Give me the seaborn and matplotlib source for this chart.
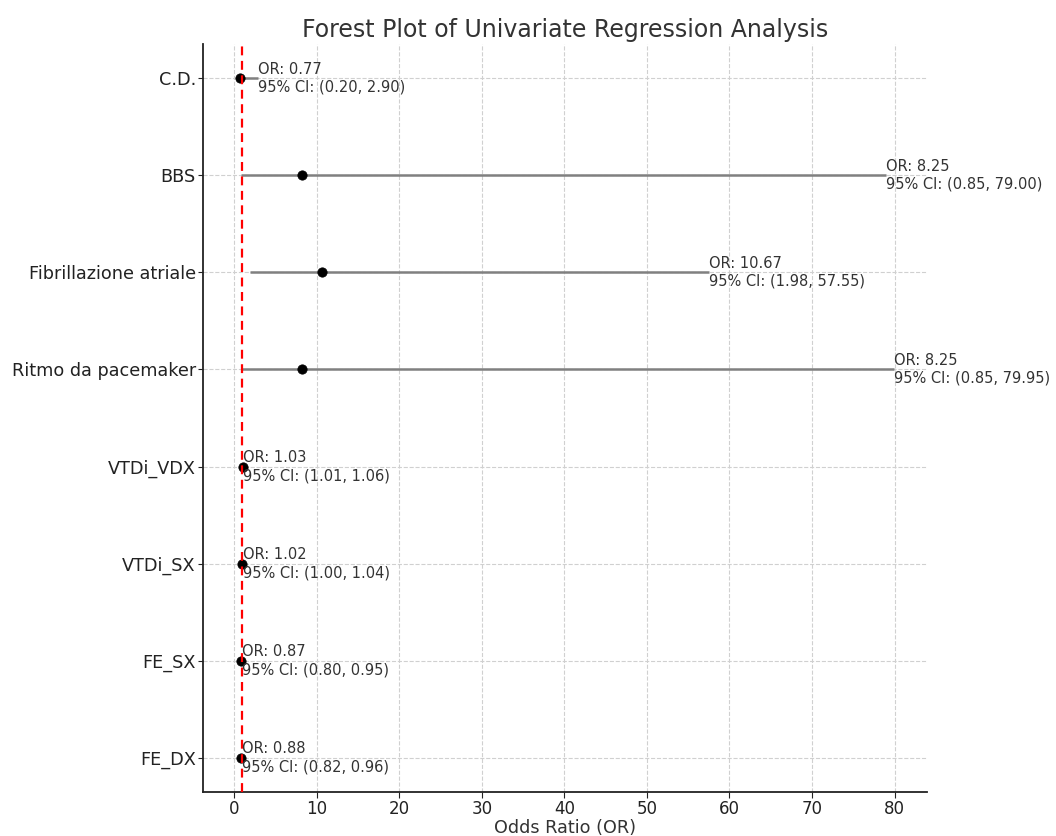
import matplotlib
matplotlib.use("Agg")
import matplotlib.pyplot as plt
import seaborn as sns
import pandas as pd

variables = ["C.D.", "BBS", "Fibrillazione atriale", "Ritmo da pacemaker",
             "VTDi_VDX", "VTDi_SX", "FE_SX", "FE_DX"]
odds_ratios = [0.77, 8.25, 10.67, 8.25, 1.03, 1.02, 0.87, 0.88]
ci_lower = [0.20, 0.85, 1.98, 0.85, 1.01, 1.00, 0.80, 0.82]
ci_upper = [2.90, 79.00, 57.55, 79.95, 1.06, 1.04, 0.95, 0.96]

df = pd.DataFrame({"Variable": variables, "OR": odds_ratios,
                   "Lower": ci_lower, "Upper": ci_upper})

sns.set_style("ticks", {"axes.grid": True, "grid.linestyle": "--",
                        "grid.color": "#d0d0d0"})
plt.rcParams["font.family"] = ["DejaVu Sans"]
txt = "#333333"
plt.rcParams["text.color"] = txt
plt.rcParams["axes.labelcolor"] = txt
plt.rcParams["xtick.color"] = "#222222"
plt.rcParams["ytick.color"] = "#222222"

fig, ax = plt.subplots(figsize=(10.56, 8.36), dpi=100)
fig.subplots_adjust(left=0.192, right=0.878, top=0.947, bottom=0.053)

ax.hlines(y=df["Variable"], xmin=df["Lower"], xmax=df["Upper"],
          color="gray", linewidth=1.8, zorder=2)
sns.scatterplot(data=df, x="OR", y="Variable", color="black", s=45,
                edgecolor="black", zorder=3, ax=ax)
ax.axvline(x=1, color="red", linestyle=(0, (4, 2.5)), linewidth=1.6, zorder=4)

for i, row in df.iterrows():
    ax.text(row["Upper"], i,
            f"OR: {row['OR']:.2f}\n95% CI: ({row['Lower']:.2f}, {row['Upper']:.2f})",
            va="center", ha="left", fontsize=10.5, color=txt, zorder=5,
            linespacing=1.25)

ax.set_xlim(-3.79, 83.94)
ax.set_ylim(7.35, -0.35)
ax.set_title("Forest Plot of Univariate Regression Analysis", fontsize=17,
             color=txt, pad=5)
ax.set_xlabel("Odds Ratio (OR)", fontsize=12.7, labelpad=1)
ax.set_ylabel("")
ax.set_xticks(range(0, 81, 10))
ax.tick_params(axis="x", labelsize=12, pad=2, length=4)
ax.tick_params(axis="y", labelsize=12.7, pad=1.5, length=3.5)
for s in ["top", "right"]:
    ax.spines[s].set_visible(False)
for s in ["left", "bottom"]:
    ax.spines[s].set_color("#222222")
    ax.spines[s].set_linewidth(1.3)
ax.grid(True, linestyle="--", color="#d0d0d0", linewidth=0.8)

fig.savefig("out.png", dpi=100)
